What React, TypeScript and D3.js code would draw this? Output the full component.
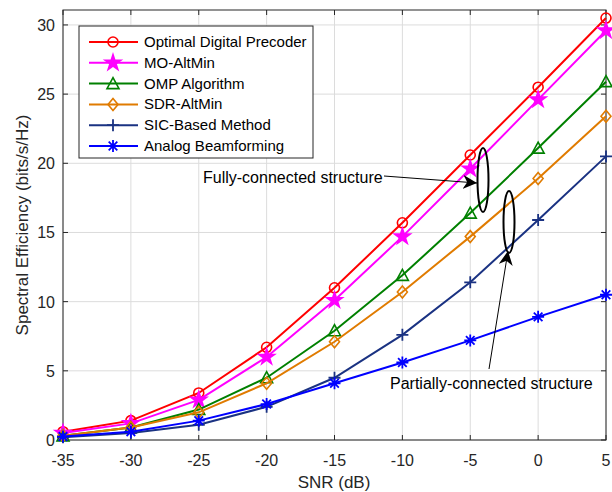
import React, { useEffect, useRef } from 'react';
import * as d3 from 'd3';

const snr = [-35, -30, -25, -20, -15, -10, -5, 0, 5];

const optimal = [0.6, 1.4, 3.4, 6.7, 11.0, 15.7, 20.6, 25.5, 30.5];
const moAltMin = [0.5, 1.2, 2.9, 6.0, 10.1, 14.7, 19.6, 24.6, 29.6];
const omp = [0.3, 0.9, 2.2, 4.5, 7.9, 11.9, 16.4, 21.1, 25.9];
const sdrAltMin = [0.3, 0.9, 2.0, 4.1, 7.1, 10.7, 14.7, 18.9, 23.4];
const sicBased = [0.2, 0.5, 1.1, 2.4, 4.5, 7.6, 11.4, 15.9, 20.5];
const analog = [0.25, 0.6, 1.4, 2.6, 4.1, 5.6, 7.2, 8.9, 10.5];

const xTicks = [-35, -30, -25, -20, -15, -10, -5, 0, 5];
const yTicks = [0, 5, 10, 15, 20, 25, 30];

const series = [
  { name: 'Optimal Digital Precoder', values: optimal, color: '#ff0000', marker: 'circle' },
  { name: 'MO-AltMin', values: moAltMin, color: '#ff00ff', marker: 'star' },
  { name: 'OMP Algorithm', values: omp, color: '#008000', marker: 'triangle' },
  { name: 'SDR-AltMin', values: sdrAltMin, color: '#e07b00', marker: 'diamond' },
  { name: 'SIC-Based Method', values: sicBased, color: '#1a3282', marker: 'plus' },
  { name: 'Analog Beamforming', values: analog, color: '#0000ff', marker: 'asterisk' },
];

const FONT = 'Liberation Sans, Arial, sans-serif';

function drawMarker(g: any, type: string, x: number, y: number, color: string) {
  if (type === 'circle') {
    g.append('circle').attr('cx', x).attr('cy', y).attr('r', 5)
      .attr('fill', 'none').attr('stroke', color).attr('stroke-width', 1.6);
  } else if (type === 'star') {
    g.append('path').attr('d', d3.symbol(d3.symbolStar, 130)())
      .attr('transform', `translate(${x},${y})`).attr('fill', color);
  } else if (type === 'triangle') {
    g.append('path').attr('d', 'M0,-6L6,5L-6,5Z')
      .attr('transform', `translate(${x},${y})`)
      .attr('fill', 'none').attr('stroke', color).attr('stroke-width', 1.6);
  } else if (type === 'diamond') {
    g.append('path').attr('d', 'M0,-6L5,0L0,6L-5,0Z')
      .attr('transform', `translate(${x},${y})`)
      .attr('fill', 'none').attr('stroke', color).attr('stroke-width', 1.6);
  } else if (type === 'plus') {
    g.append('path').attr('d', 'M-6,0L6,0M0,-6L0,6')
      .attr('transform', `translate(${x},${y})`)
      .attr('stroke', color).attr('stroke-width', 1.8);
  } else if (type === 'asterisk') {
    g.append('path').attr('d', 'M-6,0L6,0M0,-6L0,6M-4.3,-4.3L4.3,4.3M-4.3,4.3L4.3,-4.3')
      .attr('transform', `translate(${x},${y})`)
      .attr('stroke', color).attr('stroke-width', 1.8);
  }
}

const Chart = () => {
  const ref = useRef<SVGSVGElement>(null);

  useEffect(() => {
    document.body.style.margin = '0';
    document.body.style.overflow = 'hidden';

    const svg = d3.select(ref.current);
    svg.selectAll('*').remove();

    const left = 63, right = 606, top = 10, bottom = 440;
    const x = d3.scaleLinear().domain([-35, 5]).range([left, right]);
    const y = d3.scaleLinear().domain([0, 31.08]).range([bottom, top]);

    svg.append('rect').attr('width', 612).attr('height', 492).attr('fill', '#fff');

    // grid
    const grid = svg.append('g').attr('stroke', '#dcdcdc').attr('stroke-width', 1);
    xTicks.forEach(t => grid.append('line').attr('x1', x(t)).attr('x2', x(t)).attr('y1', top).attr('y2', bottom));
    yTicks.forEach(t => grid.append('line').attr('x1', left).attr('x2', right).attr('y1', y(t)).attr('y2', y(t)));

    // axes box, ticks inward
    const axisColor = '#262626';
    const ax = svg.append('g').attr('stroke', axisColor).attr('stroke-width', 1).attr('fill', 'none');
    ax.append('rect').attr('x', left).attr('y', top).attr('width', right - left).attr('height', bottom - top);
    xTicks.forEach(t => {
      ax.append('line').attr('x1', x(t)).attr('x2', x(t)).attr('y1', bottom).attr('y2', bottom - 5);
      ax.append('line').attr('x1', x(t)).attr('x2', x(t)).attr('y1', top).attr('y2', top + 5);
    });
    yTicks.forEach(t => {
      ax.append('line').attr('x1', left).attr('x2', left + 5).attr('y1', y(t)).attr('y2', y(t));
      ax.append('line').attr('x1', right).attr('x2', right - 5).attr('y1', y(t)).attr('y2', y(t));
    });

    const labels = svg.append('g').attr('font-family', FONT).attr('font-size', 16).attr('fill', axisColor);
    xTicks.forEach(t => labels.append('text').attr('x', x(t)).attr('y', 466).attr('text-anchor', 'middle').text(t));
    yTicks.forEach(t => labels.append('text').attr('x', left - 8).attr('y', y(t) + 6).attr('text-anchor', 'end').text(t));

    labels.append('text').attr('x', 334).attr('y', 488).attr('text-anchor', 'middle')
      .attr('font-size', 17).text('SNR (dB)');
    labels.append('text').attr('transform', `translate(28,${(top + bottom) / 2}) rotate(-90)`)
      .attr('text-anchor', 'middle').attr('font-size', 17).text('Spectral Efficiency (bits/s/Hz)');

    // series
    const line = d3.line<number>().x((d, i) => x(snr[i])).y(d => y(d));
    series.forEach(s => {
      const g = svg.append('g');
      g.append('path').attr('d', line(s.values)).attr('fill', 'none')
        .attr('stroke', s.color).attr('stroke-width', 2);
      s.values.forEach((v, i) => drawMarker(g, s.marker, x(snr[i]), y(v), s.color));
    });

    // annotations
    const ann = svg.append('g');
    ann.append('defs').append('marker').attr('id', 'ah').attr('viewBox', '0 0 10 10')
      .attr('refX', 10).attr('refY', 5).attr('markerWidth', 14).attr('markerHeight', 14)
      .attr('markerUnits', 'userSpaceOnUse').attr('orient', 'auto')
      .append('path').attr('d', 'M0,0L10,5L0,10L3,5Z').attr('fill', '#000');

    ann.append('ellipse').attr('cx', 483).attr('cy', 180).attr('rx', 5.5).attr('ry', 32)
      .attr('fill', 'none').attr('stroke', '#000').attr('stroke-width', 2);
    ann.append('ellipse').attr('cx', 509).attr('cy', 222).attr('rx', 5.5).attr('ry', 31)
      .attr('fill', 'none').attr('stroke', '#000').attr('stroke-width', 2);

    ann.append('line').attr('x1', 384).attr('y1', 176).attr('x2', 477).attr('y2', 183)
      .attr('stroke', '#000').attr('stroke-width', 1).attr('marker-end', 'url(#ah)');
    ann.append('line').attr('x1', 489).attr('y1', 369).attr('x2', 508).attr('y2', 251)
      .attr('stroke', '#000').attr('stroke-width', 1).attr('marker-end', 'url(#ah)');

    ann.append('text').attr('x', 203).attr('y', 183).attr('font-family', FONT).attr('font-size', 16)
      .attr('fill', '#000').text('Fully-connected structure');
    ann.append('text').attr('x', 390).attr('y', 389).attr('font-family', FONT).attr('font-size', 16)
      .attr('fill', '#000').text('Partially-connected structure');

    // legend
    const lg = svg.append('g');
    lg.append('rect').attr('x', 79).attr('y', 26).attr('width', 234).attr('height', 132)
      .attr('fill', '#fff').attr('stroke', axisColor).attr('stroke-width', 1);
    series.forEach((s, i) => {
      const ly = 42 + i * 20.8;
      lg.append('line').attr('x1', 89).attr('x2', 138).attr('y1', ly).attr('y2', ly)
        .attr('stroke', s.color).attr('stroke-width', 2);
      drawMarker(lg, s.marker, 113, ly, s.color);
      lg.append('text').attr('x', 144).attr('y', ly + 5).attr('font-family', FONT)
        .attr('font-size', 15).attr('fill', '#000').text(s.name);
    });
  }, []);

  return <svg ref={ref} width={612} height={492} style={{ display: 'block' }} />;
};

export default function App() {
  return <Chart />;
}
